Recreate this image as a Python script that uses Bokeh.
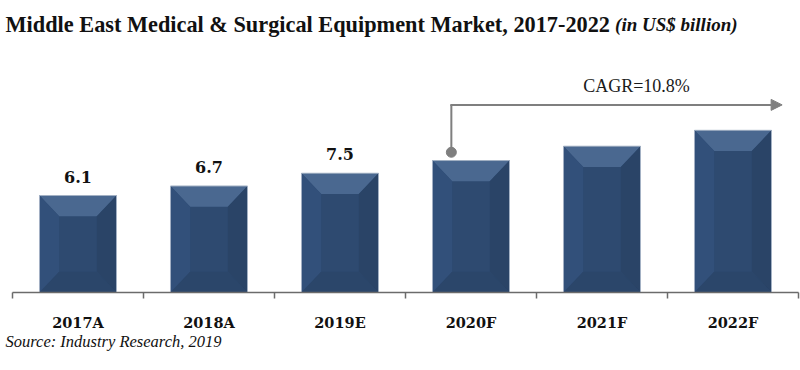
from bokeh.plotting import figure
from bokeh.models import Range1d, FixedTicker, Label, Arrow, NormalHead, ColumnDataSource, Title
from bokeh.embed import file_html
from bokeh.resources import INLINE
from bokeh.core.properties import value

# ---- data ----
years = ["2017A", "2018A", "2019E", "2020F", "2021F", "2022F"]
market = [6.1, 6.7, 7.5, 8.3, 9.2, 10.2]
shown_labels = ["6.1", "6.7", "7.5", "", "", ""]
cagr_text = "CAGR=10.8%"
title_main = "Middle East Medical & Surgical Equipment Market, 2017-2022"
title_unit = "(in US$ billion)"
source_text = "Source: Industry Research, 2019"

SERIF = "Liberation Serif"
HEAVY = "DejaVu Serif"

p = figure(width=800, height=366, output_backend="svg", toolbar_location=None,
           x_range=Range1d(-12 / 131, 6 + 2 / 131), y_range=Range1d(0, 18.365),
           min_border_left=0, min_border_right=0, min_border_top=0, min_border_bottom=74)
p.outline_line_color = None
p.xgrid.visible = False
p.ygrid.visible = False
p.yaxis.visible = False
p.background_fill_color = "white"
p.border_fill_color = "white"

# ---- bars with bevel ----
n = len(years)
centers = [i + 0.5 for i in range(n)]
bw = 0.588
bx = 0.15   # bevel horizontal (data units)
by = 1.3    # bevel vertical (data units)
lefts = [c - bw / 2 for c in centers]
rights = [c + bw / 2 for c in centers]

p.quad(left=lefts, right=rights, bottom=0, top=market,
       fill_color="#2E4A70", line_color=None)

top_xs, top_ys, lft_xs, lft_ys, rgt_xs, rgt_ys, bot_xs, bot_ys = ([] for _ in range(8))
for l, r, v in zip(lefts, rights, market):
    top_xs.append([l, r, r - bx, l + bx]); top_ys.append([v, v, v - by, v - by])
    lft_xs.append([l, l + bx, l + bx, l]); lft_ys.append([v, v - by, by, 0])
    rgt_xs.append([r, r, r - bx, r - bx]); rgt_ys.append([v, 0, by, v - by])
    bot_xs.append([l, r, r - bx, l + bx]); bot_ys.append([0, 0, by, by])

p.patches(top_xs, top_ys, fill_color="#4A6890", line_color=None)
p.patches(lft_xs, lft_ys, fill_color="#32507A", line_color=None)
p.patches(rgt_xs, rgt_ys, fill_color="#2A4467", line_color=None)
p.patches(bot_xs, bot_ys, fill_color="#2B466A", line_color=None)
p.quad(left=lefts, right=rights, bottom=0, top=market,
       fill_color=None, line_color="#A3B1C4", line_width=1)

# value labels
src = ColumnDataSource(dict(x=centers, y=market, t=shown_labels))
p.text(x="x", y="y", text="t", source=src, text_align="center", text_baseline="alphabetic",
       y_offset=-19, text_font=value(HEAVY), text_font_style="bold",
       text_font_size="16px", text_color="#111111")

# ---- CAGR connector ----
i0 = 3
dot_x = centers[i0] - 0.15
dot_y = market[i0] + 0.52
line_y = 11.8
p.line([dot_x, dot_x], [dot_y, line_y], line_color="#7F7F7F", line_width=2)
p.add_layout(Arrow(x_start=dot_x - 0.008, y_start=line_y, x_end=5.875, y_end=line_y,
                   line_color="#7F7F7F", line_width=2,
                   end=NormalHead(size=11, fill_color="#7F7F7F", line_color="#7F7F7F")))
p.scatter([dot_x], [dot_y], size=10, fill_color="#7F7F7F", line_color="#7F7F7F")
p.add_layout(Label(x=4.763, y=13.0, text=cagr_text, text_align="center",
                   text_baseline="middle", text_font=SERIF, text_font_size="18px",
                   text_color="#1a1a1a"))

# ---- x axis ----
ax = p.xaxis[0]
ax.bounds = (0, n)
ax.ticker = FixedTicker(ticks=centers, minor_ticks=list(range(n + 1)))
ax.major_label_overrides = {c: y for c, y in zip(centers, years)}
ax.major_tick_out = 0
ax.major_tick_in = 0
ax.minor_tick_out = 6
ax.minor_tick_in = 0
ax.minor_tick_line_color = "#6B6B6B"
ax.minor_tick_line_width = 1.5
ax.axis_line_color = "#6B6B6B"
ax.axis_line_width = 1.5
ax.major_label_standoff = 15
ax.major_label_text_font = HEAVY
ax.major_label_text_font_style = "bold"
ax.major_label_text_font_size = "14.5px"
ax.major_label_text_color = "#111111"

# ---- title & source ----
p.add_layout(Label(x=-0.053, y=16.86, text=title_main, text_font=SERIF,
                   text_font_style="bold", text_font_size="22.3px", text_color="#111111",
                   text_baseline="alphabetic"))
p.add_layout(Label(x=4.6, y=16.86, text=title_unit, text_font=SERIF,
                   text_font_style="bold italic", text_font_size="19px", text_color="#111111",
                   text_baseline="alphabetic"))
p.add_layout(Title(text=source_text, align="left", offset=5, standoff=-8,
                   text_font=SERIF, text_font_style="italic", text_font_size="16.5px",
                   text_color="#111111"), "below")

open("out.html", "w").write(file_html(p, INLINE))
